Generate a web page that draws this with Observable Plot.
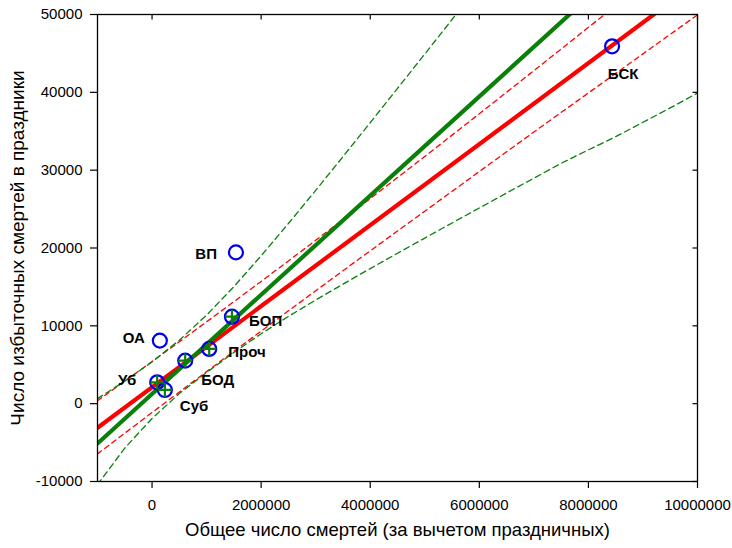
<!DOCTYPE html>
<html>
<head>
<meta charset="utf-8">
<script src="https://cdn.jsdelivr.net/npm/d3@7"></script>
<script src="https://cdn.jsdelivr.net/npm/@observablehq/plot@0.6"></script>
<style>
  html, body { margin: 0; padding: 0; background: #fff; }
  #chart { width: 732px; height: 548px; }
</style>
</head>
<body>
<div id="chart"></div>
<script>
// ---- data ----
const names = ["БСК", "ВП", "БОП", "ОА", "Проч", "БОД", "Уб", "Суб"];
const totalDeaths = [8434000, 1538000, 1465000, 143000, 1048000, 608000, 94000, 235000];
const excessDeaths = [45910, 19440, 11180, 8100, 7030, 5530, 2740, 1760];
const greenFitNames = ["БОП", "Проч", "БОД", "Уб", "Суб"];

// regression lines (end points)
const fitX = [-1000000, 10000000];
const redFitY = [-3097, 54180];
const greenFitY = [-5120, 64950];

// confidence bands
const bandX = [-1000000, -500000, 0, 500000, 1000000, 1500000, 2000000, 2500000, 3000000, 3500000,
  4000000, 4500000, 5000000, 5500000, 6000000, 6500000, 7000000, 7500000, 8000000, 8500000,
  9000000, 9500000, 10000000];
const redUpper = [384, 2889, 5413, 7957, 10519, 13104, 15709, 18337, 20984, 23653,
  26339, 29045, 31765, 34501, 37249, 40010, 42780, 45560, 48348, 51144, 53945, null, null];
const redLower = [-6450, -3794, -1140, 1494, 4117, 6731, 9324, 11928, 14501, 17075,
  19638, 22182, 24725, 27274, 29822, 32361, 34899, 37413, 39926, 42435, 44943, 47447, 49950];
const greenUpper = [645, 2896, 5355, 8146, 11376, 15032, 18994, 23144, 27405, 31733,
  36104, 40504, 44923, 49357, 53801, null, null, null, null, null, null, null, null];
const greenLower = [-10400, -5700, -1900, 1300, 4000, 6578, 8986, 11206, 13315, 15357,
  17356, 19326, 21277, 23213, 25139, 27062, 28970, 30878, 32600, 34300, 36150, 38000, 39900];

const xTicks = [0, 2000000, 4000000, 6000000, 8000000, 10000000];
const yTicks = [-10000, 0, 10000, 20000, 30000, 40000, 50000];
const xTitle = "Общее число смертей (за вычетом праздничных)";
const yTitle = "Число избыточных смертей в праздники";

// ---- build tables ----
const points = names.map((n, i) => ({name: n, x: totalDeaths[i], y: excessDeaths[i]}));
const greenPts = points.filter(p => greenFitNames.includes(p.name));
const curve = ys => bandX.map((x, i) => ({x, y: ys[i]}));
const line2 = ys => fitX.map((x, i) => ({x, y: ys[i]}));

// label placement (layout only)
const labelLayout = {
  "БСК": {anchor: "middle", dx: 11, dy: 28},
  "ВП": {anchor: "end", dx: -19, dy: 2},
  "БОП": {anchor: "start", dx: 17, dy: 5},
  "ОА": {anchor: "end", dx: -15, dy: -2},
  "Проч": {anchor: "start", dx: 19, dy: 3},
  "БОД": {anchor: "start", dx: 16, dy: 20},
  "Уб": {anchor: "end", dx: -21, dy: -2},
  "Суб": {anchor: "start", dx: 15, dy: 16}
};

const tickDown = {draw(ctx) { ctx.moveTo(0, 0); ctx.lineTo(0, 5); }};
const tickLeft = {draw(ctx) { ctx.moveTo(0, 0); ctx.lineTo(-5, 0); }};
const plusSym = {draw(ctx, size) {
  const r = Math.sqrt(size / Math.PI);
  ctx.moveTo(-r, 0); ctx.lineTo(r, 0); ctx.moveTo(0, -r); ctx.lineTo(0, r);
}};

const labelMarks = names.map(n => Plot.text(points.filter(p => p.name === n), {
  x: "x", y: "y", text: "name",
  textAnchor: labelLayout[n].anchor, dx: labelLayout[n].dx, dy: labelLayout[n].dy,
  fontSize: 15, fontWeight: "bold", fill: "black"
}));

const chart = Plot.plot({
  width: 732,
  height: 548,
  marginLeft: 97,
  marginRight: 35,
  marginTop: 14,
  marginBottom: 67,
  style: {fontFamily: "'Liberation Sans', Arial, sans-serif", fontSize: "15px", background: "white", color: "black"},
  x: {domain: [-1000000, 10000000]},
  y: {domain: [-10000, 50000]},
  marks: [
    Plot.line(curve(redUpper), {x: "x", y: "y", stroke: "#ff0000", strokeWidth: 1.3, strokeDasharray: "5,4", clip: true}),
    Plot.line(curve(redLower), {x: "x", y: "y", stroke: "#ff0000", strokeWidth: 1.3, strokeDasharray: "5,4", clip: true}),
    Plot.line(curve(greenUpper), {x: "x", y: "y", stroke: "#0a800a", strokeWidth: 1.3, strokeDasharray: "6,4", clip: true}),
    Plot.line(curve(greenLower), {x: "x", y: "y", stroke: "#0a800a", strokeWidth: 1.3, strokeDasharray: "6,4", clip: true}),
    Plot.line(line2(redFitY), {x: "x", y: "y", stroke: "#ff0000", strokeWidth: 4.2, clip: true}),
    Plot.line(line2(greenFitY), {x: "x", y: "y", stroke: "#0a800a", strokeWidth: 4.2, clip: true}),
    Plot.dot(points, {x: "x", y: "y", r: 7, stroke: "#0000ee", strokeWidth: 2.2, fill: "none"}),
    Plot.dot(greenPts, {x: "x", y: "y", r: 7, symbol: plusSym, stroke: "#0a800a", strokeWidth: 2.2, fill: "none"}),
    ...labelMarks,
    Plot.frame({stroke: "black", strokeWidth: 1.3}),
    Plot.dot(xTicks, {x: d => d, y: () => 50000, symbol: tickDown, r: 3, stroke: "black", strokeWidth: 1.2, fill: "none"}),
    Plot.dot(yTicks, {x: () => 10000000, y: d => d, symbol: tickLeft, r: 3, stroke: "black", strokeWidth: 1.2, fill: "none"}),
    Plot.axisX({ticks: xTicks, tickSize: 7, tickPadding: 11, tickFormat: d => String(d), fontSize: 15, label: null, strokeWidth: 1.2}),
    Plot.axisY({ticks: yTicks, tickSize: 7, tickPadding: 8, tickFormat: d => String(d), fontSize: 15, label: null, strokeWidth: 1.2}),
    Plot.text([xTitle], {frameAnchor: "bottom", dy: 54, text: d => d, fontSize: 18.5, fill: "black"}),
    Plot.text([yTitle], {frameAnchor: "left", dx: -80, rotate: -90, textAnchor: "middle", text: d => d, fontSize: 19, fill: "black"})
  ]
});
document.getElementById("chart").appendChild(chart);
</script>
</body>
</html>
